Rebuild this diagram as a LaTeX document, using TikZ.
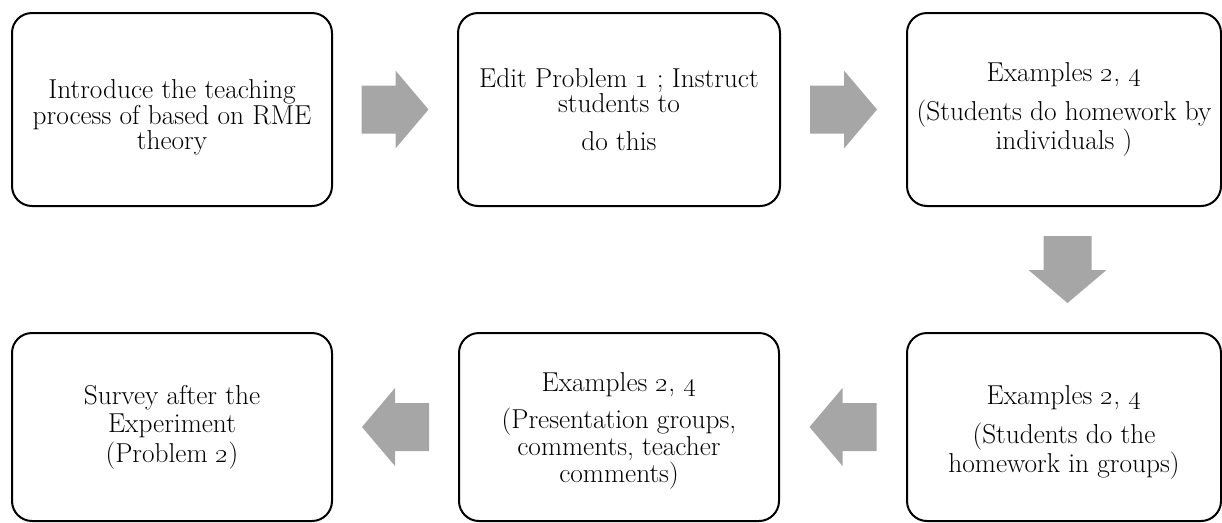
\documentclass[tikz,border=0pt]{standalone}
\usepackage{tikz}
\usetikzlibrary{positioning,calc}
\definecolor{arrgray}{HTML}{A6A6A6}

\begin{document}
\begin{tikzpicture}[x=0.75pt,y=0.75pt,
  stepbox/.style={draw,line width=1.5pt,rounded corners=15pt,align=center,
    inner sep=0pt,minimum width=240pt,minimum height=144.75pt,
    font=\fontsize{20.5}{19}\selectfont},
  blockarrow/.pic={\fill[arrgray] (-33.5,-24) -- (0.5,-24) -- (0.5,-39) -- (33.5,0)
    -- (0.5,39) -- (0.5,24) -- (-33.5,24) -- cycle;}]
  \useasboundingbox (0,0) rectangle (1222,-522);
  % top row
  \node[stepbox] (intro) at (172,-109.5)
    {\rule{0pt}{26pt}Introduce the teaching\\process of based on RME\\theory};
  \node[stepbox,minimum width=241.5pt] (edit) at (619,-109.5)
    {Edit Problem \oldstylenums{1} ; Instruct\\students to\\[9pt]do this};
  \node[stepbox,minimum width=235.5pt] (indiv) at (1064,-109.5)
    {Examples \oldstylenums{2}, \oldstylenums{4}\\[9pt](Students do homework by\\individuals )};
  % bottom row
  \node[stepbox,minimum height=141pt] (survey) at (172,-427)
    {Survey after the\\[2pt]Experiment\\[2pt](Problem \oldstylenums{2})};
  \node[stepbox,minimum height=141pt] (present) at (619,-427)
    {\rule{0pt}{20pt}Examples \oldstylenums{2}, \oldstylenums{4}\\[7pt](Presentation groups,\\comments, teacher\\comments)};
  \node[stepbox,minimum width=235.5pt,minimum height=141pt] (group) at (1064,-427)
    {\rule{0pt}{22pt}Examples \oldstylenums{2}, \oldstylenums{4}\\[9pt](Students do the\\homework in groups)};
  % block arrows
  \pic at ($(intro.east)!0.5!(edit.west)$) {blockarrow};
  \pic at ($(edit.east)!0.5!(indiv.west)$) {blockarrow};
  \pic[rotate=-90] at ($(indiv.south)!0.5!(group.north)+(3.5,0)$) {blockarrow};
  \pic[rotate=180] at ($(group.west)!0.5!(present.east)$) {blockarrow};
  \pic[rotate=180] at ($(present.west)!0.5!(survey.east)$) {blockarrow};
\end{tikzpicture}
\end{document}
